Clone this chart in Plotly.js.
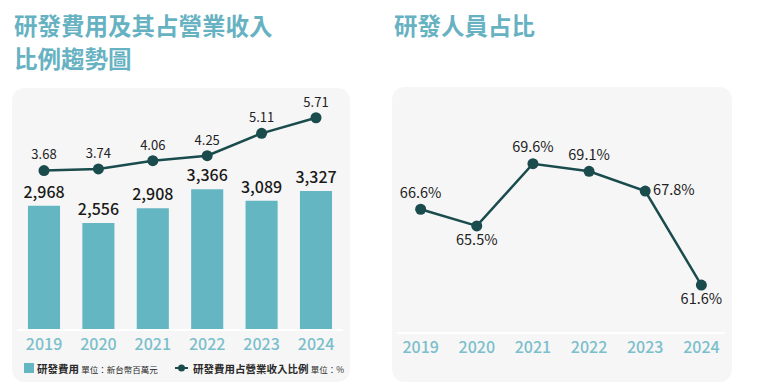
<!DOCTYPE html>
<html>
<head>
<meta charset="utf-8">
<script src="https://cdn.plot.ly/plotly-3.0.1.min.js"></script>
<style>html,body{margin:0;padding:0;background:#fff;}#chart{width:759px;height:386px;}</style>
</head>
<body>
<div id="chart"></div>
<script>
// ---- data ----
const years = ['2019', '2020', '2021', '2022', '2023', '2024'];
const rdExpense = [2968, 2556, 2908, 3366, 3089, 3327];          // 新台幣百萬元
const rdRatio = [3.68, 3.74, 4.06, 4.25, 5.11, 5.71];             // %
const rdStaffShare = [66.6, 65.5, 69.6, 69.1, 67.8, 61.6];        // %

const titleLeft1 = '研發費用及其占營業收入';
const titleLeft2 = '比例趨勢圖';
const titleRight = '研發人員占比';
const legendBar = '研發費用';
const legendBarUnit = '單位：新台幣百萬元';
const legendLine = '研發費用占營業收入比例';
const legendLineUnit = '單位：%';

// ---- style ----
const W = 759, H = 386;
const FONT = '"Noto Sans CJK TC", "Noto Sans", sans-serif';
const TEAL = '#64b6c2';
const DARK = '#1b4c4d';
const TITLE = '#67b2c2';
const TICK = '#7bbfcc';
const PANEL = '#f6f6f6';

const px = x => x / W;
const py = y => 1 - y / H;

function roundRect(x0, y0, x1, y1, r) {
  const X = v => px(v).toFixed(5), Y = v => py(v).toFixed(5);
  return `M${X(x0 + r)},${Y(y0)} L${X(x1 - r)},${Y(y0)} Q${X(x1)},${Y(y0)} ${X(x1)},${Y(y0 + r)} ` +
         `L${X(x1)},${Y(y1 - r)} Q${X(x1)},${Y(y1)} ${X(x1 - r)},${Y(y1)} ` +
         `L${X(x0 + r)},${Y(y1)} Q${X(x0)},${Y(y1)} ${X(x0)},${Y(y1 - r)} ` +
         `L${X(x0)},${Y(y0 + r)} Q${X(x0)},${Y(y0)} ${X(x0 + r)},${Y(y0)} Z`;
}

const traces = [
  {
    type: 'bar', x: years, y: rdExpense, xaxis: 'x', yaxis: 'y',
    name: legendBar, showlegend: false,
    marker: { color: TEAL },
    texttemplate: '%{y:,}', textposition: 'outside', cliponaxis: false, constraintext: 'none',
    textfont: { family: FONT, size: 16, color: '#1a1a1a', weight: 500 },
    hoverinfo: 'skip'
  },
  {
    type: 'scatter', mode: 'lines+markers+text', x: years, y: rdRatio, xaxis: 'x', yaxis: 'y2',
    name: legendLine, showlegend: false,
    line: { color: DARK, width: 2.5 },
    marker: { color: DARK, size: 11 },
    text: rdRatio.map(v => v.toFixed(2)), textposition: 'top center', cliponaxis: false,
    textfont: { family: FONT, size: 13, color: '#222', weight: 400 },
    hoverinfo: 'skip'
  },
  {
    type: 'scatter', mode: 'lines+markers+text', x: years, y: rdStaffShare, xaxis: 'x2', yaxis: 'y3',
    showlegend: false,
    line: { color: DARK, width: 2.5 },
    marker: { color: DARK, size: 11 },
    text: rdStaffShare.map(v => v.toFixed(1) + '%'),
    textposition: ['top center', 'bottom center', 'top center', 'top center', 'middle right', 'bottom center'],
    cliponaxis: false,
    textfont: { family: FONT, size: 14.5, color: '#222', weight: 400 },
    hoverinfo: 'skip'
  }
];

const xaxisCommon = {
  type: 'category', showgrid: false, zeroline: false,
  showline: true, linecolor: '#ffffff', linewidth: 2,
  ticks: '', tickfont: { family: FONT, size: 16, color: TICK, weight: 500 }, fixedrange: true
};

const ann = (text, x, y, size, color, anchor) => ({
  text, xref: 'paper', yref: 'paper', x: px(x), y: py(y), xanchor: anchor || 'left', yanchor: 'middle',
  showarrow: false, font: { family: FONT, size, color }
});

const layout = {
  width: W, height: H,
  margin: { l: 0, r: 0, t: 0, b: 0 },
  paper_bgcolor: '#ffffff', plot_bgcolor: 'rgba(0,0,0,0)',
  font: { family: FONT },
  bargap: 0.41,
  showlegend: false,
  xaxis: Object.assign({}, xaxisCommon, { domain: [px(16.8), px(343.2)], anchor: 'y' }),
  yaxis: { domain: [py(329), py(95)], range: [0, 5639], visible: false, fixedrange: true },
  yaxis2: { overlaying: 'y', range: [-2.415, 6.585], visible: false, fixedrange: true },
  xaxis2: Object.assign({}, xaxisCommon, { domain: [px(397.4), px(724.6)], anchor: 'y3' }),
  yaxis3: { domain: [py(331.7), py(110)], range: [58.53, 73.14], visible: false, fixedrange: true },
  shapes: [
    { type: 'path', xref: 'paper', yref: 'paper', layer: 'below', path: roundRect(12, 88, 350, 382, 14), fillcolor: PANEL, line: { width: 0 } },
    { type: 'path', xref: 'paper', yref: 'paper', layer: 'below', path: roundRect(392, 87, 732, 382, 14), fillcolor: PANEL, line: { width: 0 } },
    // legend symbols
    { type: 'rect', xref: 'paper', yref: 'paper', x0: px(24), x1: px(34), y0: py(373), y1: py(363), fillcolor: TEAL, line: { width: 0 } },
    { type: 'line', xref: 'paper', yref: 'paper', x0: px(175), x1: px(188), y0: py(368), y1: py(368), line: { color: DARK, width: 2 } },
    { type: 'circle', xref: 'paper', yref: 'paper', x0: px(178), x1: px(185), y0: py(371.5), y1: py(364.5), fillcolor: DARK, line: { width: 0 } }
  ],
  annotations: [
    ann(`<b>${titleLeft1}</b>`, 12, 25, 23.5, TITLE),
    ann(`<b>${titleLeft2}</b>`, 12, 58, 23.5, TITLE),
    ann(`<b>${titleRight}</b>`, 392, 25, 23.5, TITLE),
    ann(`<b>${legendBar}</b> <span style="font-size:8.5px">${legendBarUnit}</span>`, 35, 368, 10.5, '#2a2a2a'),
    ann(`<b>${legendLine}</b> <span style="font-size:8.5px">${legendLineUnit}</span>`, 191, 368, 10.5, '#2a2a2a')
  ]
};

Plotly.newPlot('chart', traces, layout, { displayModeBar: false, staticPlot: true });
</script>
</body>
</html>
